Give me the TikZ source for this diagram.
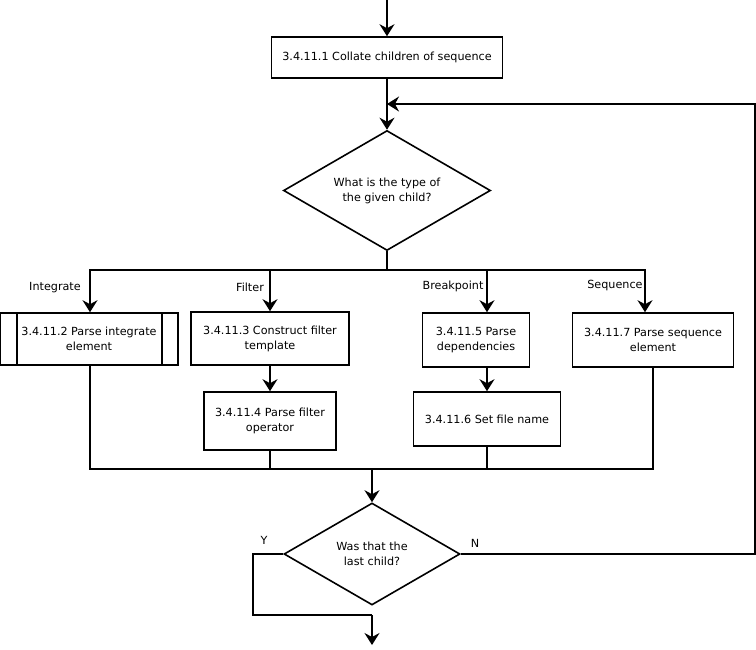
\documentclass[tikz,border=0pt]{standalone}
\usepackage{fontspec}
\setmainfont{DejaVu Sans}
\usetikzlibrary{shapes.geometric,arrows.meta}

\begin{document}
\begin{tikzpicture}[x=1pt,y=-1pt,
    every node/.style={font=\fontsize{11.2}{15}\selectfont},
    box/.style={draw, line width=1.6pt, align=center, inner sep=0pt},
    decision/.style={draw, line width=1.6pt, shape=diamond, align=center, aspect=1.7, inner sep=0pt},
    line/.style={line width=1.6pt},
    arrow/.style={line width=1.6pt, -{Stealth[length=12pt,width=15pt,inset=4pt]}},
    lbl/.style={inner sep=0pt}]

    \useasboundingbox (0,0) rectangle (756,649);

    % Cajas
    \node[box, minimum width=231, minimum height=41] (collate) at (387,57.5)
        {3.4.11.1 Collate children of sequence};
    \node[decision, minimum width=207, minimum height=120] (type) at (387,190.5)
        {What is the type of\\the given child?};

    \node[box, minimum width=178, minimum height=52] (integ) at (89,339)
        {3.4.11.2 Parse integrate\\element};
    \draw[line] ([xshift=18]integ.north west) -- ([xshift=18]integ.south west);
    \draw[line] ([xshift=-17]integ.north east) -- ([xshift=-17]integ.south east);
    \node[box, minimum width=158, minimum height=53] (filter) at (270,338.5)
        {3.4.11.3 Construct filter\\template};
    \node[box, minimum width=132, minimum height=58] (oper) at (270,421)
        {3.4.11.4 Parse filter\\operator};
    \node[box, minimum width=107, minimum height=54] (deps) at (476,340)
        {3.4.11.5 Parse\\dependencies};
    \node[box, minimum width=147, minimum height=54] (fname) at (487,419)
        {3.4.11.6 Set file name};
    \node[box, minimum width=161, minimum height=54] (seq) at (653,340)
        {3.4.11.7 Parse sequence\\element};

    \node[decision, minimum width=176, minimum height=102] (last) at (372,554)
        {Was that the\\last child?};

    % Etiquetas
    \node[lbl] (lint) at (55,288) {Integrate};
    \node[lbl] (lfil) at (250,287) {Filter};
    \node[lbl] (lbrk) at (453,286) {Breakpoint};
    \node[lbl] (lseq) at (615,286) {Sequence};
    \node[lbl] (ly) at (264,540) {Y};
    \node[lbl] (ln) at (475,543) {N};

    % Puntos
    \coordinate (entry) at (387,0);
    \coordinate (loop) at (387,104);
    \coordinate (split) at (387,270);
    \coordinate (merge) at (372,469);
    \coordinate (ybend) at (372,615);
    \coordinate (exit) at (372,645);

    % Conectores
    \draw[arrow] (entry) -- (collate.north);
    \draw[arrow] (collate.south) -- (type.north);
    \draw[line] (type.south) -- (split);
    \draw[arrow] (split) -| ([xshift=1]integ.north);
    \draw[arrow] (split) -| (filter.north);
    \draw[arrow] (split) -| ([xshift=11]deps.north);
    \draw[arrow] (split) -| ([xshift=-8]seq.north);
    \draw[arrow] (filter.south) -- (oper.north);
    \draw[arrow] ([xshift=11]deps.south) -- (fname.north);

    \draw[line] ([xshift=1]integ.south) |- (merge);
    \draw[line] (oper.south) |- (merge);
    \draw[line] (fname.south) |- (merge);
    \draw[line] (seq.south) |- (merge);
    \draw[arrow] (merge) -- (last.north);

    \draw[line] (last.west) -- ++(-30,0) |- (ybend);
    \draw[arrow] (ybend) -- (exit);
    \draw[arrow] (last.east) -- ++(294,0) |- (loop);

\end{tikzpicture}
\end{document}
